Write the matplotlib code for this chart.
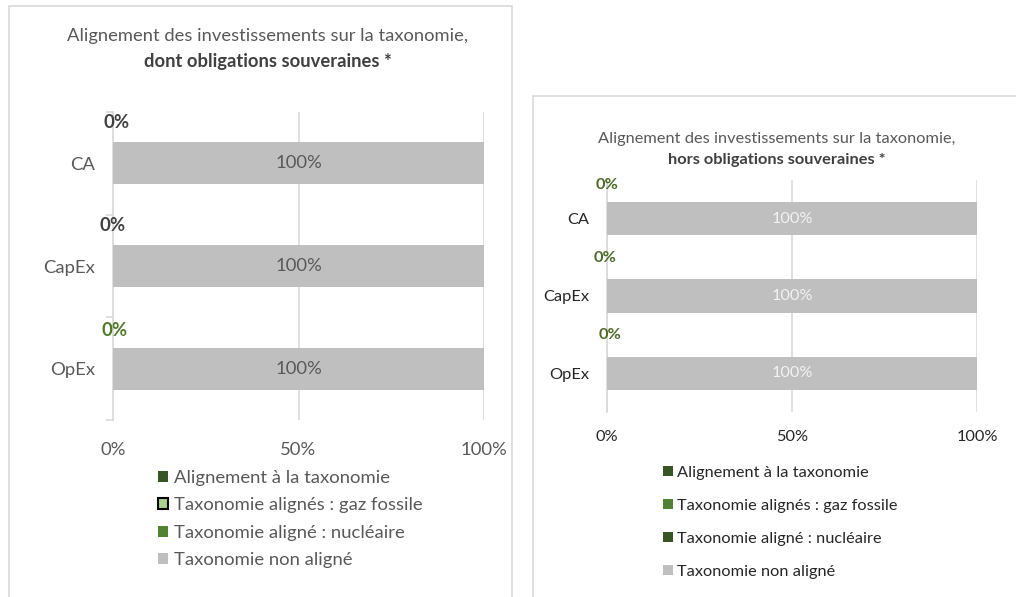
import matplotlib.pyplot as plt
from matplotlib.patches import Rectangle

plt.rcParams['font.family'] = ['Lato', 'DejaVu Sans']

categories = ['CA', 'CapEx', 'OpEx']
series_names = ['Alignement à la taxonomie',
                'Taxonomie alignés : gaz fossile',
                'Taxonomie aligné : nucléaire',
                'Taxonomie non aligné']

# left: dont obligations souveraines
left_values = {
    'Alignement à la taxonomie': [0, 0, 0],
    'Taxonomie alignés : gaz fossile': [0, 0, 0],
    'Taxonomie aligné : nucléaire': [0, 0, 0],
    'Taxonomie non aligné': [100, 100, 100],
}
# right: hors obligations souveraines
right_values = {
    'Alignement à la taxonomie': [0, 0, 0],
    'Taxonomie alignés : gaz fossile': [0, 0, 0],
    'Taxonomie aligné : nucléaire': [0, 0, 0],
    'Taxonomie non aligné': [100, 100, 100],
}
x_ticks = [0, 50, 100]
x_labels = ['0%', '50%', '100%']

W, H = 1016, 597
fig = plt.figure(figsize=(W / 100, H / 100), dpi=100)


def px_axes(x0, y0, x1, y1):
    return fig.add_axes([x0 / W, 1 - y1 / H, (x1 - x0) / W, (y1 - y0) / H])


# panel borders
fig.patches.append(Rectangle((9 / W, -0.05), (512 - 9) / W, 1.05 - 6 / H,
                             transform=fig.transFigure, fill=False,
                             edgecolor='#D9D9D9', lw=1.2))
fig.patches.append(Rectangle((533 / W, -0.05), 0.5, 1.05 - 96 / H,
                             transform=fig.transFigure, fill=False,
                             edgecolor='#D9D9D9', lw=1.2))


def draw(ax, values, colors, bar_h, txt_col, fs, ylab_col, zero_cols, zero_off, xpad, ypad):
    y = list(range(len(categories)))
    left = [0] * len(categories)
    for name in series_names:
        vals = values[name]
        bars = ax.barh(y, vals, left=left, height=bar_h, color=colors[name],
                       linewidth=0, zorder=3)
        if name == 'Taxonomie non aligné':
            for b, v in zip(bars, vals):
                ax.text(b.get_x() + b.get_width() / 2, b.get_y() + b.get_height() / 2,
                        f'{v}%', ha='center', va='center', color=txt_col,
                        fontsize=fs, zorder=4)
        left = [l + v for l, v in zip(left, vals)]
    # zero labels above each bar
    for i, c in enumerate(categories):
        v = values['Alignement à la taxonomie'][i]
        ax.text(v + zero_off[i][0], i - zero_off[i][1], f'{v}%',
                ha='center', va='center', color=zero_cols[i], fontsize=fs,
                fontweight='bold', zorder=5)
    ax.set_xlim(0, 100)
    ax.set_ylim(len(categories) - 0.5, -0.5)
    ax.set_xticks(x_ticks)
    ax.set_xticklabels(x_labels)
    ax.set_yticks(y)
    ax.set_yticklabels(categories)
    ax.tick_params(axis='both', which='major', length=0, labelsize=fs)
    ax.tick_params(axis='x', colors='#595959', pad=xpad)
    ax.tick_params(axis='y', labelcolor=ylab_col, pad=ypad)
    ax.grid(axis='x', color='#D9D9D9', lw=1.2, zorder=0)
    for s in ['top', 'right', 'bottom']:
        ax.spines[s].set_visible(False)
    ax.spines['left'].set_color('#D9D9D9')
    ax.spines['left'].set_linewidth(1.2)


# left panel
axL = px_axes(113, 112, 484, 420)
left_colors = {series_names[0]: '#375623', series_names[1]: '#A9D08E',
               series_names[2]: '#548235', series_names[3]: '#BFBFBF'}
draw(axL, left_values, left_colors, 0.41, '#595959', 13.3, '#595959',
     ['#404040', '#404040', '#4F7A28'],
     [(0.9, 0.40), (-0.2, 0.39), (0.5, 0.37)], 16, 13)
axL.set_yticks([-0.5, 0.5, 1.5, 2.5], minor=True)
axL.tick_params(axis='y', which='minor', length=5, color='#D9D9D9', width=1.2)

fig.text(268 / W, 1 - 36 / H, 'Alignement des investissements sur la taxonomie,',
         ha='center', va='center', fontsize=13.2, color='#595959')
fig.text(268 / W, 1 - 61 / H, 'dont obligations souveraines *',
         ha='center', va='center', fontsize=13.2, color='#404040', fontweight='bold')

handlesL = [Rectangle((0, 0), 1, 1, facecolor=left_colors[n],
                      edgecolor='black' if n == series_names[1] else left_colors[n],
                      lw=1.5 if n == series_names[1] else 0)
            for n in series_names]
fig.legend(handlesL, series_names, loc='upper left',
           bbox_to_anchor=(158 / W, 1 - 470 / H), frameon=False,
           fontsize=13.3, labelcolor='#595959', handlelength=0.55, handleheight=0.55,
           handletextpad=0.3, labelspacing=0.62, borderaxespad=0, borderpad=0)

# right panel
axR = px_axes(607, 180, 977, 412)
right_colors = {series_names[0]: '#375623', series_names[1]: '#548235',
                series_names[2]: '#375623', series_names[3]: '#BFBFBF'}
draw(axR, right_values, right_colors, 0.43, '#F2F2F2', 11.8, '#262626',
     ['#4F6B2A', '#4F6B2A', '#4F6B2A'],
     [(0.0, 0.43), (-0.5, 0.49), (0.8, 0.49)], 13, 13)
axR.tick_params(axis='x', colors='#262626')

fig.text(777 / W, 1 - 139 / H, 'Alignement des investissements sur la taxonomie,',
         ha='center', va='center', fontsize=11.8, color='#595959')
fig.text(777 / W, 1 - 160 / H, 'hors obligations souveraines *',
         ha='center', va='center', fontsize=11.8, color='#404040', fontweight='bold')

handlesR = [Rectangle((0, 0), 1, 1, facecolor=right_colors[n], lw=0) for n in series_names]
fig.legend(handlesR, series_names, loc='upper left',
           bbox_to_anchor=(663 / W, 1 - 466 / H), frameon=False,
           fontsize=11.8, labelcolor='#262626', handlelength=0.6, handleheight=0.6,
           handletextpad=0.25, labelspacing=1.16, borderaxespad=0, borderpad=0)

fig.savefig('out.png', dpi=100, facecolor='white')
